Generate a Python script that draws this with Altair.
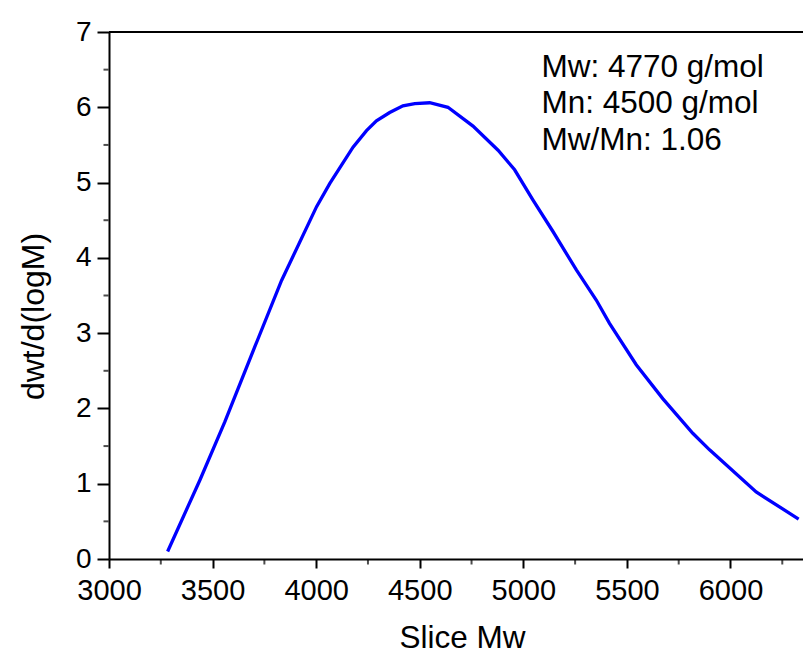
import altair as alt
import pandas as pd

slice_mw = [3283, 3439, 3559, 3704, 3833, 4002, 4066, 4178, 4243, 4291, 4355, 4419,
            4476, 4548, 4636, 4757, 4878, 4958, 5046, 5143, 5256, 5352, 5416, 5545,
            5673, 5818, 5899, 6124, 6329]
dwt = [0.10, 1.05, 1.82, 2.82, 3.70, 4.68, 4.99, 5.47, 5.69, 5.82, 5.93, 6.02,
       6.05, 6.06, 6.00, 5.75, 5.43, 5.17, 4.77, 4.35, 3.84, 3.44, 3.13, 2.58,
       2.13, 1.67, 1.45, 0.89, 0.53]
x_major = [3000, 3500, 4000, 4500, 5000, 5500, 6000]
x_minor = [3250, 3750, 4250, 4750, 5250, 5750, 6250]
y_major = [0, 1, 2, 3, 4, 5, 6, 7]
y_minor = [0.5, 1.5, 2.5, 3.5, 4.5, 5.5, 6.5]
notes = ["Mw: 4770 g/mol", "Mn: 4500 g/mol", "Mw/Mn: 1.06"]

df = pd.DataFrame({"Slice Mw": slice_mw, "dwt": dwt})
one = pd.DataFrame({"k": [0]})
xm = pd.DataFrame({"xm": x_minor})
ym = pd.DataFrame({"ym": y_minor})

FONT = "Liberation Sans"

x_axis = alt.Axis(
    values=x_major,
    format="d",
    labelFont=FONT, labelFontSize=29, labelColor="black",
    labelBaseline="alphabetic", labelPadding=31, labelFlush=False,
    tickSize=9, tickColor="black", tickWidth=2,
    domainColor="black", domainWidth=2,
    grid=False,
    title="Slice Mw", titleFont=FONT, titleFontSize=31.5, titleFontWeight="normal",
    titleColor="black", titleBaseline="alphabetic",
    titleX=353, titleY=88, titleAlign="center",
)
y_axis = alt.Axis(
    values=y_major,
    format="d",
    labelFont=FONT, labelFontSize=28, labelColor="black",
    labelPadding=6, labelFlush=False,
    tickSize=12, tickColor="black", tickWidth=2,
    domainColor="black", domainWidth=2,
    grid=False,
    title="dwt/d(logM)", titleFont=FONT, titleFontSize=32, titleFontWeight="normal",
    titleColor="black", titleAngle=270, titleBaseline="alphabetic",
    titleX=-66, titleY=284, titleAlign="center",
)

x_scale = alt.Scale(domain=[3000, 6350], nice=False, zero=False)
y_scale = alt.Scale(domain=[0, 7], nice=False)

line = alt.Chart(df).mark_line(color="#0000FF", strokeWidth=3.3).encode(
    x=alt.X("Slice Mw:Q", scale=x_scale, axis=x_axis),
    y=alt.Y("dwt:Q", scale=y_scale, axis=y_axis),
)

top_rule = alt.Chart(one).mark_rule(color="black", strokeWidth=2).encode(
    y=alt.datum(7)
)

x_minor_ticks = alt.Chart(xm).mark_tick(
    color="black", thickness=2, size=5, yOffset=3, orient="vertical"
).encode(x=alt.X("xm:Q", scale=x_scale), y=alt.datum(0))

y_minor_ticks = alt.Chart(ym).mark_tick(
    color="black", thickness=2, size=5, xOffset=-3, orient="horizontal"
).encode(y=alt.Y("ym:Q", scale=y_scale), x=alt.datum(3000))

note = alt.Chart(one).mark_text(
    text=notes, align="left", baseline="alphabetic", font=FONT, fontSize=31.5,
    lineHeight=36.7, color="black",
).encode(x=alt.value(432.5), y=alt.value(44.7))

chart = alt.layer(top_rule, line, x_minor_ticks, y_minor_ticks, note).properties(
    width=694, height=527,
    autosize=alt.AutoSizeParams(type="none"),
    padding={"left": 109, "top": 32, "right": 0, "bottom": 92},
).configure_view(stroke="transparent")

chart.save("out.html", embed_options={"renderer": "svg", "actions": False})
